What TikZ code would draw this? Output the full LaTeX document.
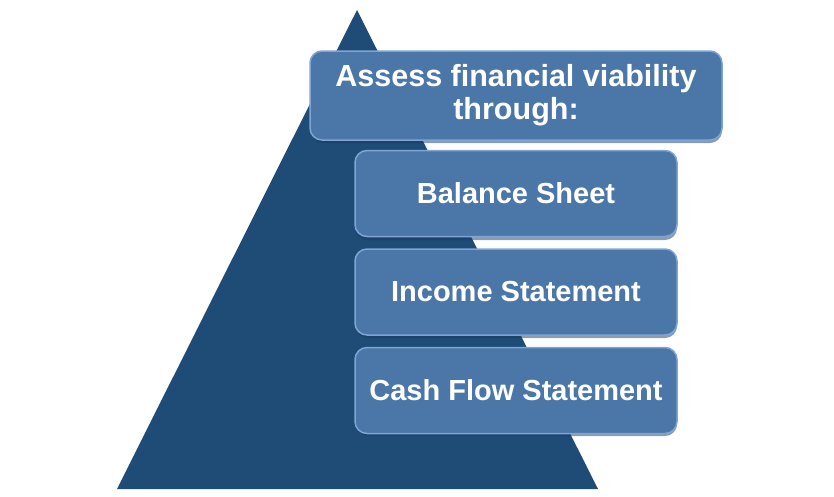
\documentclass[tikz,border=0pt]{standalone}
\usepackage{fontspec}
\setmainfont{Liberation Sans}
\usetikzlibrary{positioning}
\definecolor{pyrblue}{HTML}{1F4B77}
\definecolor{boxblue}{HTML}{4A76A8}
\definecolor{boxedge}{HTML}{7EA5D5}
\definecolor{boxshade}{HTML}{173A5E}
\tikzset{
    pyramid/.style = {fill=pyrblue, draw=none},
    stepbox/.style = {rectangle, rounded corners=12pt, draw=boxedge, line width=1.5pt, fill=boxblue, align=center, text=white, inner sep=0pt},
    topbox/.style = {stepbox, minimum width=412pt, minimum height=89pt, font=\bfseries\fontsize{30.5}{33}\selectfont},
    listbox/.style = {stepbox, minimum width=322pt, minimum height=86pt, font=\bfseries\fontsize{29}{33}\selectfont},
    shade/.style = {rounded corners=12pt, fill=boxshade, opacity=0.5, draw=none}
}

\begin{document}
\begin{tikzpicture}[x=1pt,y=-1pt]
\useasboundingbox[fill=white] (0,0) rectangle (834,496);
\coordinate (apex) at (357,10);
\coordinate (left) at (117,489);
\coordinate (right) at (598,489);
\fill[pyramid] (apex) -- (right) -- (left) -- cycle;

% shadows under the boxes
\fill[shade] (311,54) rectangle (722,143);
\fill[shade] (356,152) rectangle (677,240);
\fill[shade] (356,250) rectangle (677,338);
\fill[shade] (356,347) rectangle (677,436);

\node[topbox] at (516,95.5) (assess) {Assess financial viability\\through:};
\node[listbox] at (516,193.5) (balance) {Balance Sheet};
\node[listbox, below=11pt of balance] (income) {Income Statement};
\node[listbox, below=11pt of income] (cash) {Cash Flow Statement};

\end{tikzpicture}
\end{document}
